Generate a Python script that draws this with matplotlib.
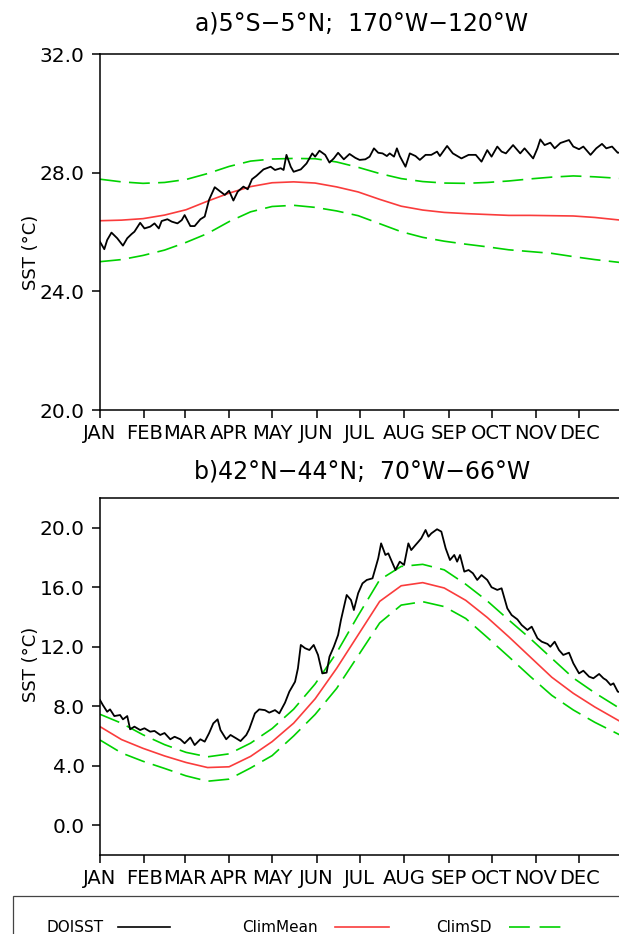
import matplotlib
matplotlib.use('Agg')
import matplotlib.pyplot as plt
from matplotlib.lines import Line2D
from matplotlib.patches import Rectangle

# ---- data (day of year) ----
months = ['JAN', 'FEB', 'MAR', 'APR', 'MAY', 'JUN',
          'JUL', 'AUG', 'SEP', 'OCT', 'NOV', 'DEC']
month_start = [0, 31, 59, 90, 120, 151, 181, 212, 243, 273, 304, 334]

clim_day = [0, 15, 30, 45, 60, 75, 90, 105, 120, 135, 150, 165, 180,
            195, 210, 225, 240, 255, 270, 285, 300, 315, 330, 345, 365]

# a) 5S-5N; 170W-120W
a_mean = [26.38, 26.40, 26.45, 26.57, 26.75, 27.04, 27.31, 27.53, 27.66, 27.69, 27.65, 27.52, 27.35,
          27.10, 26.87, 26.74, 26.66, 26.62, 26.59, 26.56, 26.56, 26.55, 26.54, 26.49, 26.39]
a_upper = [27.78, 27.69, 27.64, 27.67, 27.77, 27.97, 28.21, 28.39, 28.46, 28.48, 28.47, 28.36, 28.18,
           27.97, 27.80, 27.70, 27.65, 27.64, 27.67, 27.72, 27.79, 27.85, 27.89, 27.86, 27.80]
a_lower = [25.00, 25.07, 25.21, 25.39, 25.65, 25.95, 26.35, 26.68, 26.86, 26.90, 26.83, 26.71, 26.55,
           26.28, 26.01, 25.82, 25.69, 25.59, 25.50, 25.40, 25.34, 25.28, 25.17, 25.07, 24.96]

a_obs_day = [0, 3, 5, 8, 12, 16, 19, 22, 24, 28,
             31, 35, 38, 41, 43, 47, 50, 54, 57, 59,
             63, 66, 70, 73, 76, 80, 84, 87, 90, 93,
             96, 100, 103, 106, 109, 114, 119, 122, 126, 128,
             130, 133, 135, 140, 144, 148, 150, 153, 157, 160,
             163, 166, 170, 174, 178, 181, 185, 188, 191, 194,
             197, 200, 202, 205, 207, 209, 213, 216, 220, 223,
             227, 231, 235, 237, 242, 246, 252, 257, 262, 266,
             270, 273, 277, 280, 283, 288, 293, 296, 302, 305,
             307, 310, 314, 317, 321, 327, 330, 334, 337, 342,
             346, 350, 353, 357, 361, 365]
a_obs = [25.67, 25.42, 25.73, 25.98, 25.79, 25.54, 25.79, 25.93, 26.01, 26.31,
         26.12, 26.18, 26.29, 26.12, 26.37, 26.43, 26.35, 26.29, 26.40, 26.57,
         26.20, 26.20, 26.43, 26.52, 27.08, 27.51, 27.36, 27.25, 27.39, 27.06,
         27.36, 27.53, 27.44, 27.78, 27.89, 28.11, 28.20, 28.09, 28.15, 28.09,
         28.60, 28.20, 28.03, 28.11, 28.31, 28.65, 28.54, 28.74, 28.60, 28.34,
         28.48, 28.67, 28.45, 28.63, 28.50, 28.43, 28.45, 28.54, 28.82, 28.67,
         28.65, 28.56, 28.65, 28.54, 28.82, 28.56, 28.20, 28.65, 28.56, 28.43,
         28.60, 28.60, 28.71, 28.56, 28.90, 28.65, 28.48, 28.60, 28.60, 28.37,
         28.76, 28.54, 28.88, 28.71, 28.65, 28.93, 28.65, 28.82, 28.48, 28.82,
         29.12, 28.93, 29.01, 28.82, 29.00, 29.10, 28.88, 28.79, 28.88, 28.60,
         28.82, 28.97, 28.82, 28.88, 28.67, 28.70]

# b) 42N-44N; 70W-66W
b_mean = [6.63, 5.76, 5.17, 4.66, 4.22, 3.88, 3.93, 4.63, 5.62, 6.86, 8.50, 10.55, 12.80,
          15.05, 16.10, 16.31, 15.95, 15.12, 13.97, 12.67, 11.31, 9.95, 8.87, 7.95, 6.85]
b_upper = [7.46, 6.86, 6.08, 5.42, 4.90, 4.60, 4.80, 5.52, 6.50, 7.80, 9.50, 11.60, 14.10,
           16.50, 17.40, 17.54, 17.17, 16.20, 15.08, 13.80, 12.55, 11.22, 9.90, 8.90, 7.70]
b_lower = [5.73, 4.86, 4.30, 3.82, 3.32, 2.96, 3.10, 3.85, 4.68, 6.00, 7.45, 9.20, 11.40,
           13.60, 14.80, 15.03, 14.70, 13.90, 12.63, 11.33, 10.00, 8.73, 7.75, 6.92, 5.95]

b_obs_day = [0, 2, 5, 7, 10, 14, 16, 19, 21, 24,
             28, 31, 35, 38, 42, 45, 49, 52, 56, 59,
             63, 66, 70, 73, 76, 79, 82, 84, 88, 91,
             95, 98, 102, 104, 108, 111, 115, 118, 122, 125,
             129, 132, 136, 138, 140, 143, 146, 149, 152, 155,
             158, 160, 163, 166, 168, 172, 175, 177, 180, 183,
             186, 190, 192, 194, 196, 199, 201, 203, 206, 209,
             212, 215, 217, 220, 222, 224, 227, 229, 231, 235,
             238, 241, 244, 247, 249, 251, 254, 257, 260, 263,
             266, 270, 273, 277, 280, 284, 287, 291, 294, 298,
             301, 305, 308, 312, 314, 317, 320, 323, 327, 330,
             334, 337, 341, 344, 348, 351, 353, 356, 358, 361,
             365]
b_obs = [8.42, 8.08, 7.63, 7.79, 7.34, 7.41, 7.12, 7.34, 6.45, 6.63,
         6.40, 6.52, 6.29, 6.34, 6.07, 6.20, 5.78, 5.95, 5.78, 5.51,
         5.90, 5.39, 5.78, 5.62, 6.18, 6.85, 7.12, 6.40, 5.78, 6.07,
         5.84, 5.66, 6.07, 6.45, 7.52, 7.79, 7.74, 7.57, 7.74, 7.52,
         8.24, 8.98, 9.65, 10.55, 12.12, 11.90, 11.78, 12.12, 11.45, 10.21,
         10.26, 11.33, 12.00, 12.79, 13.80, 15.48, 15.14, 14.47, 15.60, 16.26,
         16.49, 16.60, 17.27, 17.95, 18.95, 18.17, 18.28, 17.83, 17.16, 17.72,
         17.50, 18.95, 18.50, 18.84, 19.06, 19.29, 19.85, 19.40, 19.62, 19.90,
         19.74, 18.62, 17.83, 18.17, 17.72, 18.17, 17.05, 17.16, 16.94, 16.49,
         16.82, 16.49, 16.00, 15.82, 15.93, 14.58, 14.13, 13.84, 13.46, 13.13,
         13.35, 12.57, 12.34, 12.19, 12.00, 12.34, 11.78, 11.45, 11.60, 10.89,
         10.21, 10.39, 9.99, 9.88, 10.17, 9.88, 9.76, 9.43, 9.54, 8.98,
         8.90]

RED = '#fa3c3c'
GREEN = '#00d200'
plt.rcParams['lines.scale_dashes'] = False
DASH = (15, 6)

W, H = 619, 934
fig = plt.figure(figsize=(W / 100, H / 100), dpi=100)


def draw_panel(rect, title, title_y, label_y, obs_day, obs, mean, upper, lower, ylim, yticks):
    ax = fig.add_axes(rect)
    ax.plot(clim_day, upper, color=GREEN, lw=1.2, dashes=DASH)
    ax.plot(clim_day, lower, color=GREEN, lw=1.2, dashes=DASH)
    ax.plot(clim_day, mean, color=RED, lw=1.2)
    ax.plot(obs_day, obs, color='black', lw=1.3)
    ax.set_xlim(0, 365)
    ax.set_ylim(*ylim)
    ax.set_yticks(yticks)
    ax.set_yticklabels(['%.1f' % v for v in yticks], fontsize=14.5)
    ax.set_xticks(month_start)
    ax.set_xticklabels(months, fontsize=14)
    ax.tick_params(direction='out', length=6, width=1.1, color='black')
    ax.tick_params(axis='y', pad=5)
    ax.tick_params(axis='x', pad=4)
    ax.spines['right'].set_visible(False)
    for s in ('left', 'bottom', 'top'):
        ax.spines[s].set_linewidth(1.1)
    ax.set_ylabel('SST (°C)', fontsize=13)
    ax.yaxis.set_label_coords(-0.114, label_y)
    cx = rect[0] + rect[2] / 2
    fig.text(cx, title_y, title, ha='center', va='center', fontsize=17)
    return ax


draw_panel([100 / W, 1 - 410 / H, 523.5 / W, 356 / H],
           'a)5°S\u22125°N;  170°W\u2212120°W', 1 - 24 / H, 0.444,
           a_obs_day, a_obs, a_mean, a_upper, a_lower,
           (20, 32), [20.0, 24.0, 28.0, 32.0])
draw_panel([100 / W, 1 - 855 / H, 523.5 / W, 357 / H],
           'b)42°N\u221244°N;  70°W\u221266°W', 1 - 471 / H, 0.535,
           b_obs_day, b_obs, b_mean, b_upper, b_lower,
           (-2, 22), [0.0, 4.0, 8.0, 12.0, 16.0, 20.0])

# legend box along the bottom edge
fig.add_artist(Rectangle((12.5 / W, -0.02), 1.0, (934 - 896) / H + 0.02,
                         transform=fig.transFigure, fill=False,
                         edgecolor='#444444', lw=0.9))
ly = 1 - 927 / H
entries = [('DOISST', 46, 118, 170, 'black', None),
           ('ClimMean', 242, 335, 389, RED, None),
           ('ClimSD', 436, 509, 563, GREEN, (15, 7))]
for label, tx, x0, x1, col, dash in entries:
    fig.text(tx / W, ly, label, ha='left', va='center', fontsize=11)
    ln = Line2D([x0 / W, x1 / W], [ly, ly], transform=fig.transFigure,
                color=col, lw=1.2)
    if dash:
        ln.set_dashes(dash)
    fig.add_artist(ln)

fig.savefig('out.png', dpi=100)
